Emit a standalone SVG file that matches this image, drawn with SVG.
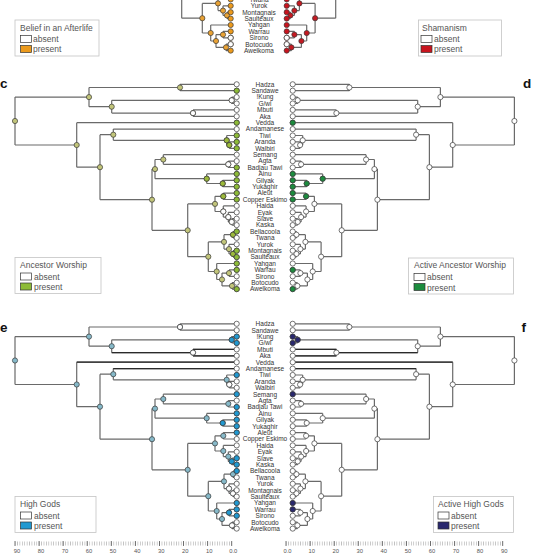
<svg xmlns="http://www.w3.org/2000/svg" xmlns:xlink="http://www.w3.org/1999/xlink" width="535" height="555" viewBox="0 0 535 555">
<style>
.e{fill:none;stroke:#6a6a6a;stroke-width:1.2}
.ed{fill:none;stroke:#2a2a2a;stroke-width:1.2}
.n{stroke:#3a3a3a;stroke-width:0.7}
.tl{font-family:"Liberation Sans",Arial,sans-serif;font-size:6.5px;fill:#333;text-anchor:middle}
.lg{fill:#fff;stroke:#c4c4c4;stroke-width:0.8}
.lt{font-family:"Liberation Sans",Arial,sans-serif;font-size:8.5px;fill:#555}
.sw{stroke:#333;stroke-width:0.7}
.pl{font-family:"Liberation Sans",Arial,sans-serif;font-size:13.5px;font-weight:bold;fill:#111}
.ax{font-family:"Liberation Sans",Arial,sans-serif;font-size:5.8px;fill:#555;text-anchor:middle}
.mj{stroke:#555;stroke-width:0.8}
</style>
<defs>
<path id="tree" class="e" d="M15 97.1V145M15 97.1H89M15 145H76.7M89 87.5V106.7M89 87.5H180M89 106.7H111.7M180 84.3V90.7M180 84.3H236.7M180 90.7H236.7M111.7 100.3V113.1M111.7 100.3H231.7M111.7 113.1H193M231.7 97.1V103.5M231.7 97.1H236.7M231.7 103.5H236.7M193 109.9V116.3M193 109.9H236.7M193 116.3H236.7M76.7 122.7V167.2M76.7 122.7H236.7M76.7 167.2H100M100 134.7V199.7M100 134.7H113.3M100 199.7H152M113.3 129.1V140.3M113.3 129.1H236.7M113.3 140.3H226.7M226.7 135.5V145.1M226.7 135.5H236.7M226.7 145.1H229.3M229.3 141.9V148.3M229.3 141.9H236.7M229.3 148.3H236.7M152 169.1V230.3M152 169.1H155M152 230.3H187.7M155 159.5V178.7M155 159.5H163.3M155 178.7H206.7M163.3 154.7V164.3M163.3 154.7H236.7M163.3 164.3H228.3M228.3 161.1V167.5M228.3 161.1H236.7M228.3 167.5H236.7M206.7 173.9V183.5M206.7 173.9H236.7M206.7 183.5H222.7M222.7 180.3V186.7M222.7 180.3H236.7M222.7 186.7H236.7M187.7 203.9V256.7M187.7 203.9H215M187.7 256.7H208.3M215 196.3V211.5M215 196.3H223.3M215 211.5H223.3M223.3 193.1V199.5M223.3 193.1H236.7M223.3 199.5H236.7M223.3 205.9V217.1M223.3 205.9H236.7M223.3 217.1H228.3M228.3 212.3V221.9M228.3 212.3H236.7M228.3 221.9H231.7M231.7 218.7V225.1M231.7 218.7H236.7M231.7 225.1H236.7M208.3 241.9V271.5M208.3 241.9H224M208.3 271.5H216.7M224 234.7V249.1M224 234.7H233M224 249.1H229M233 231.5V237.9M233 231.5H236.7M233 237.9H236.7M229 244.3V253.9M229 244.3H236.7M229 253.9H233M233 250.7V257.1M233 250.7H236.7M233 257.1H236.7M216.7 263.5V279.5M216.7 263.5H236.7M216.7 279.5H222M222 273.1V285.9M222 273.1H229M222 285.9H232M229 269.9V276.3M229 269.9H236.7M229 276.3H236.7M232 282.7V289.1M232 282.7H236.7M232 289.1H236.7"/>
<path id="dark" class="ed" d="M111.7 113.1H193M193 109.9H236.7M193 116.3H236.7M76.7 122.7H236.7M113.3 129.1H236.7"/>
<g id="inodes">
<circle class="n" cx="15" cy="121" r="2.6"/><circle class="n" cx="89" cy="97.1" r="2.6"/><circle class="n" cx="180" cy="87.5" r="2.6"/><circle class="n" cx="111.7" cy="106.7" r="2.6"/><circle class="n" cx="231.7" cy="100.3" r="2.6"/><circle class="n" cx="193" cy="113.1" r="2.6"/><circle class="n" cx="76.7" cy="145" r="2.6"/><circle class="n" cx="100" cy="167.2" r="2.6"/><circle class="n" cx="113.3" cy="134.7" r="2.6"/><circle class="n" cx="226.7" cy="140.3" r="2.6"/><circle class="n" cx="229.3" cy="145.1" r="2.6"/><circle class="n" cx="152" cy="199.7" r="2.6"/><circle class="n" cx="155" cy="169.1" r="2.6"/><circle class="n" cx="163.3" cy="159.5" r="2.6"/><circle class="n" cx="228.3" cy="164.3" r="2.6"/><circle class="n" cx="206.7" cy="178.7" r="2.6"/><circle class="n" cx="222.7" cy="183.5" r="2.6"/><circle class="n" cx="187.7" cy="230.3" r="2.6"/><circle class="n" cx="215" cy="203.9" r="2.6"/><circle class="n" cx="223.3" cy="196.3" r="2.6"/><circle class="n" cx="223.3" cy="211.5" r="2.6"/><circle class="n" cx="228.3" cy="217.1" r="2.6"/><circle class="n" cx="231.7" cy="221.9" r="2.6"/><circle class="n" cx="208.3" cy="256.7" r="2.6"/><circle class="n" cx="224" cy="241.9" r="2.6"/><circle class="n" cx="233" cy="234.7" r="2.6"/><circle class="n" cx="229" cy="249.1" r="2.6"/><circle class="n" cx="233" cy="253.9" r="2.6"/><circle class="n" cx="216.7" cy="271.5" r="2.6"/><circle class="n" cx="222" cy="279.5" r="2.6"/><circle class="n" cx="229" cy="273.1" r="2.6"/><circle class="n" cx="232" cy="285.9" r="2.6"/>
</g>
<g id="tips">
<circle class="n" cx="236.7" cy="84.3" r="2.6"/><circle class="n" cx="236.7" cy="90.7" r="2.6"/><circle class="n" cx="236.7" cy="97.1" r="2.6"/><circle class="n" cx="236.7" cy="103.5" r="2.6"/><circle class="n" cx="236.7" cy="109.9" r="2.6"/><circle class="n" cx="236.7" cy="116.3" r="2.6"/><circle class="n" cx="236.7" cy="122.7" r="2.6"/><circle class="n" cx="236.7" cy="129.1" r="2.6"/><circle class="n" cx="236.7" cy="135.5" r="2.6"/><circle class="n" cx="236.7" cy="141.9" r="2.6"/><circle class="n" cx="236.7" cy="148.3" r="2.6"/><circle class="n" cx="236.7" cy="154.7" r="2.6"/><circle class="n" cx="236.7" cy="161.1" r="2.6"/><circle class="n" cx="236.7" cy="167.5" r="2.6"/><circle class="n" cx="236.7" cy="173.9" r="2.6"/><circle class="n" cx="236.7" cy="180.3" r="2.6"/><circle class="n" cx="236.7" cy="186.7" r="2.6"/><circle class="n" cx="236.7" cy="193.1" r="2.6"/><circle class="n" cx="236.7" cy="199.5" r="2.6"/><circle class="n" cx="236.7" cy="205.9" r="2.6"/><circle class="n" cx="236.7" cy="212.3" r="2.6"/><circle class="n" cx="236.7" cy="218.7" r="2.6"/><circle class="n" cx="236.7" cy="225.1" r="2.6"/><circle class="n" cx="236.7" cy="231.5" r="2.6"/><circle class="n" cx="236.7" cy="237.9" r="2.6"/><circle class="n" cx="236.7" cy="244.3" r="2.6"/><circle class="n" cx="236.7" cy="250.7" r="2.6"/><circle class="n" cx="236.7" cy="257.1" r="2.6"/><circle class="n" cx="236.7" cy="263.5" r="2.6"/><circle class="n" cx="236.7" cy="269.9" r="2.6"/><circle class="n" cx="236.7" cy="276.3" r="2.6"/><circle class="n" cx="236.7" cy="282.7" r="2.6"/><circle class="n" cx="236.7" cy="289.1" r="2.6"/>
</g>
<pattern id="tkL" patternUnits="userSpaceOnUse" x="231.4" y="542" width="2.408" height="4"><rect x="0" y="0" width="0.6" height="4" fill="#a8a8a8"/></pattern>
<pattern id="tkR" patternUnits="userSpaceOnUse" x="285.7" y="542" width="2.408" height="4"><rect x="0" y="0" width="0.6" height="4" fill="#a8a8a8"/></pattern>
</defs>
<rect width="535" height="555" fill="#fff"/>

<!-- Panel a: Belief in an Afterlife (left, top) -->
<g id="panel-a">
<g id="a-tree" transform="translate(-6 -238.5)">
<g id="a-connectors"><use href="#tree"/></g>
<use href="#inodes" fill="#e9a234"/>
<use href="#tips" fill="#ec9a1c"/>
<g fill="#fff"><circle class="n" cx="236.7" cy="276.3" r="2.6"/><circle class="n" cx="236.7" cy="282.7" r="2.6"/></g>
</g>
<g id="a-legend">
<rect class="lg" x="15" y="20" width="84" height="36"/>
<text class="lt" x="20" y="30.5">Belief in an Afterlife</text>
<rect class="sw" x="20.5" y="35.5" width="11" height="7" fill="#fff"/>
<text class="lt" x="33" y="42">absent</text>
<rect class="sw" x="20.5" y="45.5" width="11" height="7" fill="#ec9a1c"/>
<text class="lt" x="33" y="52">present</text>
</g>
</g>

<!-- Panel b: Shamanism (right, top) -->
<g id="panel-b">
<g id="b-tree" transform="matrix(-1 0 0 1 523.4 -238.5)">
<g id="b-connectors"><use href="#tree"/></g>
<use href="#inodes" fill="#c41a22"/>
<use href="#tips" fill="#c8141e"/>
<g fill="#fff"><circle class="n" cx="236.7" cy="276.3" r="2.6"/><circle class="n" cx="236.7" cy="282.7" r="2.6"/></g>
</g>
<g id="b-legend">
<rect class="lg" x="418.5" y="20" width="83" height="36"/>
<text class="lt" x="422" y="30.5">Shamanism</text>
<rect class="sw" x="421" y="35.5" width="11" height="7" fill="#fff"/>
<text class="lt" x="434" y="42">absent</text>
<rect class="sw" x="421" y="45.5" width="11" height="7" fill="#c8141e"/>
<text class="lt" x="434" y="52">present</text>
</g>
</g>

<g id="labels-ab" class="tl">
<text x="259" y="2.4">Twana</text><text x="259" y="8.1">Yurok</text><text x="259" y="14.5">Montagnais</text><text x="259" y="20.9">Saulteaux</text><text x="259" y="27.3">Yahgan</text><text x="259" y="33.7">Warrau</text><text x="259" y="40.1">Sirono</text><text x="259" y="46.5">Botocudo</text><text x="259" y="52.9">Awelkoma</text>
</g>

<!-- Panel c: Ancestor Worship (left, middle) -->
<g id="panel-c">
<text class="pl" x="0" y="88.3">c</text>
<g id="c-tree">
<g id="c-connectors"><use href="#tree"/></g>
<use href="#inodes" fill="#c2c57a"/>
<g fill="#9cba3a"><circle class="n" cx="226.7" cy="140.3" r="2.6"/><circle class="n" cx="229.3" cy="145.1" r="2.6"/><circle class="n" cx="222.7" cy="183.5" r="2.6"/><circle class="n" cx="223.3" cy="196.3" r="2.6"/><circle class="n" cx="233" cy="253.9" r="2.6"/><circle class="n" cx="233" cy="234.7" r="2.6"/><circle class="n" cx="206.7" cy="178.7" r="2.6"/></g>
<g fill="#fff"><circle class="n" cx="231.7" cy="100.3" r="2.6"/><circle class="n" cx="193" cy="113.1" r="2.6"/><circle class="n" cx="228.3" cy="164.3" r="2.6"/><circle class="n" cx="223.3" cy="211.5" r="2.6"/><circle class="n" cx="228.3" cy="217.1" r="2.6"/><circle class="n" cx="231.7" cy="221.9" r="2.6"/></g>
<use href="#tips" fill="#fff"/>
<g fill="#8dbb37"><circle class="n" cx="236.7" cy="90.7" r="2.6"/><circle class="n" cx="236.7" cy="122.7" r="2.6"/><circle class="n" cx="236.7" cy="135.5" r="2.6"/><circle class="n" cx="236.7" cy="141.9" r="2.6"/><circle class="n" cx="236.7" cy="148.3" r="2.6"/><circle class="n" cx="236.7" cy="167.5" r="2.6"/><circle class="n" cx="236.7" cy="173.9" r="2.6"/><circle class="n" cx="236.7" cy="180.3" r="2.6"/><circle class="n" cx="236.7" cy="186.7" r="2.6"/><circle class="n" cx="236.7" cy="193.1" r="2.6"/><circle class="n" cx="236.7" cy="199.5" r="2.6"/><circle class="n" cx="236.7" cy="231.5" r="2.6"/><circle class="n" cx="236.7" cy="250.7" r="2.6"/><circle class="n" cx="236.7" cy="257.1" r="2.6"/><circle class="n" cx="236.7" cy="263.5" r="2.6"/><circle class="n" cx="236.7" cy="269.9" r="2.6"/><circle class="n" cx="236.7" cy="289.1" r="2.6"/></g>
</g>
<g id="c-legend">
<rect class="lg" x="15" y="257.5" width="86" height="36"/>
<text class="lt" x="20" y="267.5">Ancestor Worship</text>
<rect class="sw" x="20.5" y="273" width="11" height="7" fill="#fff"/>
<text class="lt" x="34" y="279.5">absent</text>
<rect class="sw" x="20.5" y="283" width="11" height="7" fill="#8dbb37"/>
<text class="lt" x="34" y="290">present</text>
</g>
</g>

<!-- Panel d: Active Ancestor Worship (right, middle) -->
<g id="panel-d">
<text class="pl" x="523" y="88.3">d</text>
<g id="d-tree" transform="matrix(-1 0 0 1 529.4 0)">
<g id="d-connectors"><use href="#tree"/></g>
<use href="#inodes" fill="#fff"/>
<g fill="#1c8c3e"><circle class="n" cx="222.7" cy="183.5" r="2.6"/><circle class="n" cx="206.7" cy="178.7" r="2.6"/><circle class="n" cx="223.3" cy="196.3" r="2.6"/></g>
<use href="#tips" fill="#fff"/>
<g fill="#1c8c3e"><circle class="n" cx="236.7" cy="122.7" r="2.6"/><circle class="n" cx="236.7" cy="173.9" r="2.6"/><circle class="n" cx="236.7" cy="180.3" r="2.6"/><circle class="n" cx="236.7" cy="186.7" r="2.6"/><circle class="n" cx="236.7" cy="193.1" r="2.6"/><circle class="n" cx="236.7" cy="199.5" r="2.6"/><circle class="n" cx="236.7" cy="269.9" r="2.6"/><circle class="n" cx="236.7" cy="289.1" r="2.6"/></g>
</g>
<g id="d-legend">
<rect class="lg" x="408.5" y="258" width="105" height="36"/>
<text class="lt" x="414" y="268">Active Ancestor Worship</text>
<rect class="sw" x="414" y="273.5" width="11" height="7" fill="#fff"/>
<text class="lt" x="427" y="280">absent</text>
<rect class="sw" x="414" y="283.5" width="11" height="7" fill="#1c8c3e"/>
<text class="lt" x="427" y="290.5">present</text>
</g>
</g>

<g id="labels-cd" class="tl">
<text x="265" y="86.6">Hadza</text><text x="265" y="93">Sandawe</text><text x="265" y="99.4">!Kung</text><text x="265" y="105.8">G/wi</text><text x="265" y="112.2">Mbuti</text><text x="265" y="118.6">Aka</text><text x="265" y="125">Vedda</text><text x="265" y="131.4">Andamanese</text><text x="265" y="137.8">Tiwi</text><text x="265" y="144.2">Aranda</text><text x="265" y="150.6">Walbiri</text><text x="265" y="157">Semang</text><text x="265" y="163.4">Agta</text><text x="265" y="169.8">Badjau Tawi</text><text x="265" y="176.2">Ainu</text><text x="265" y="182.6">Gilyak</text><text x="265" y="189">Yukaghir</text><text x="265" y="195.4">Aleut</text><text x="265" y="201.8">Copper Eskimo</text><text x="265" y="208.2">Haida</text><text x="265" y="214.6">Eyak</text><text x="265" y="221">Slave</text><text x="265" y="227.4">Kaska</text><text x="265" y="233.8">Bellacoola</text><text x="265" y="240.2">Twana</text><text x="265" y="246.6">Yurok</text><text x="265" y="253">Montagnais</text><text x="265" y="259.4">Saulteaux</text><text x="265" y="265.8">Yahgan</text><text x="265" y="272.2">Warrau</text><text x="265" y="278.6">Sirono</text><text x="265" y="285">Botocudo</text><text x="265" y="291.4">Awelkoma</text>
</g>

<!-- Panel e: High Gods (left, bottom) -->
<g id="panel-e">
<text class="pl" x="0" y="331.7">e</text>
<g id="e-tree" transform="translate(0 239.5)">
<g id="e-connectors"><use href="#tree"/><use href="#dark"/></g>
<use href="#inodes" fill="#86b9c9"/>
<g fill="#2199d1"><circle class="n" cx="231.7" cy="100.3" r="2.6"/><circle class="n" cx="222.7" cy="183.5" r="2.6"/><circle class="n" cx="231.7" cy="221.9" r="2.6"/><circle class="n" cx="229" cy="273.1" r="2.6"/></g>
<g fill="#fff"><circle class="n" cx="180" cy="87.5" r="2.6"/><circle class="n" cx="193" cy="113.1" r="2.6"/><circle class="n" cx="229.3" cy="145.1" r="2.6"/><circle class="n" cx="233" cy="253.9" r="2.6"/><circle class="n" cx="229" cy="249.1" r="2.6"/><circle class="n" cx="232" cy="285.9" r="2.6"/></g>
<use href="#tips" fill="#fff"/>
<g fill="#2199d1"><circle class="n" cx="236.7" cy="97.1" r="2.6"/><circle class="n" cx="236.7" cy="103.5" r="2.6"/><circle class="n" cx="236.7" cy="135.5" r="2.6"/><circle class="n" cx="236.7" cy="154.7" r="2.6"/><circle class="n" cx="236.7" cy="167.5" r="2.6"/><circle class="n" cx="236.7" cy="173.9" r="2.6"/><circle class="n" cx="236.7" cy="180.3" r="2.6"/><circle class="n" cx="236.7" cy="186.7" r="2.6"/><circle class="n" cx="236.7" cy="193.1" r="2.6"/><circle class="n" cx="236.7" cy="218.7" r="2.6"/><circle class="n" cx="236.7" cy="225.1" r="2.6"/><circle class="n" cx="236.7" cy="231.5" r="2.6"/><circle class="n" cx="236.7" cy="263.5" r="2.6"/><circle class="n" cx="236.7" cy="269.9" r="2.6"/><circle class="n" cx="236.7" cy="276.3" r="2.6"/></g>
</g>
<g id="e-legend">
<rect class="lg" x="15" y="496.5" width="81" height="36"/>
<text class="lt" x="20" y="506.5">High Gods</text>
<rect class="sw" x="20.5" y="512" width="11" height="7" fill="#fff"/>
<text class="lt" x="34" y="518.5">absent</text>
<rect class="sw" x="20.5" y="522" width="11" height="7" fill="#2199d1"/>
<text class="lt" x="34" y="529">present</text>
</g>
</g>

<!-- Panel f: Active High Gods (right, bottom) -->
<g id="panel-f">
<text class="pl" x="521.5" y="331.7">f</text>
<g id="f-tree" transform="matrix(-1 0 0 1 529.4 239.5)">
<g id="f-connectors"><use href="#tree"/><use href="#dark"/></g>
<use href="#inodes" fill="#fff"/>
<g fill="#29286e"><circle class="n" cx="231.7" cy="100.3" r="2.6"/></g>
<use href="#tips" fill="#fff"/>
<g fill="#29286e"><circle class="n" cx="236.7" cy="97.1" r="2.6"/><circle class="n" cx="236.7" cy="103.5" r="2.6"/><circle class="n" cx="236.7" cy="154.7" r="2.6"/><circle class="n" cx="236.7" cy="263.5" r="2.6"/><circle class="n" cx="236.7" cy="269.9" r="2.6"/></g>
</g>
<g id="f-legend">
<rect class="lg" x="433.5" y="496.5" width="80" height="36"/>
<text class="lt" x="438" y="506.5">Active High Gods</text>
<rect class="sw" x="438" y="512" width="11" height="7" fill="#fff"/>
<text class="lt" x="451" y="518.5">absent</text>
<rect class="sw" x="438" y="522" width="11" height="7" fill="#29286e"/>
<text class="lt" x="451" y="529">present</text>
</g>
</g>

<g id="labels-ef" class="tl" transform="translate(0 239.5)">
<text x="265" y="86.6">Hadza</text><text x="265" y="93">Sandawe</text><text x="265" y="99.4">!Kung</text><text x="265" y="105.8">G/wi</text><text x="265" y="112.2">Mbuti</text><text x="265" y="118.6">Aka</text><text x="265" y="125">Vedda</text><text x="265" y="131.4">Andamanese</text><text x="265" y="137.8">Tiwi</text><text x="265" y="144.2">Aranda</text><text x="265" y="150.6">Walbiri</text><text x="265" y="157">Semang</text><text x="265" y="163.4">Agta</text><text x="265" y="169.8">Badjau Tawi</text><text x="265" y="176.2">Ainu</text><text x="265" y="182.6">Gilyak</text><text x="265" y="189">Yukaghir</text><text x="265" y="195.4">Aleut</text><text x="265" y="201.8">Copper Eskimo</text><text x="265" y="208.2">Haida</text><text x="265" y="214.6">Eyak</text><text x="265" y="221">Slave</text><text x="265" y="227.4">Kaska</text><text x="265" y="233.8">Bellacoola</text><text x="265" y="240.2">Twana</text><text x="265" y="246.6">Yurok</text><text x="265" y="253">Montagnais</text><text x="265" y="259.4">Saulteaux</text><text x="265" y="265.8">Yahgan</text><text x="265" y="272.2">Warrau</text><text x="265" y="278.6">Sirono</text><text x="265" y="285">Botocudo</text><text x="265" y="291.4">Awelkoma</text>
</g>

<!-- Time axes -->
<g id="axis-left">
<rect x="14.7" y="541.5" width="217.4" height="4" fill="url(#tkL)"/>
<path class="mj" d="M231.7 541v5M207.6 541v5M183.5 541v5M159.5 541v5M135.4 541v5M111.3 541v5M87.2 541v5M63.1 541v5M39.1 541v5M15 541v5"/>
<g class="ax"><text x="17" y="553">90</text><text x="41" y="553">80</text><text x="65" y="553">70</text><text x="89" y="553">60</text><text x="113" y="553">50</text><text x="137.2" y="553">40</text><text x="161.2" y="553">30</text><text x="185.2" y="553">20</text><text x="209.2" y="553">10</text><text x="233.2" y="553">0.0</text></g>
</g>
<g id="axis-right">
<rect x="285.7" y="541.5" width="217.4" height="4" fill="url(#tkR)"/>
<path class="mj" d="M286 541v5M310.1 541v5M334.2 541v5M358.2 541v5M382.3 541v5M406.4 541v5M430.5 541v5M454.6 541v5M478.6 541v5M502.7 541v5"/>
<g class="ax"><text x="287.5" y="553">0.0</text><text x="311.8" y="553">10</text><text x="335.8" y="553">20</text><text x="359.8" y="553">30</text><text x="383.8" y="553">40</text><text x="408" y="553">50</text><text x="432" y="553">60</text><text x="456" y="553">70</text><text x="480" y="553">80</text><text x="504.2" y="553">90</text></g>
</g>
</svg>
